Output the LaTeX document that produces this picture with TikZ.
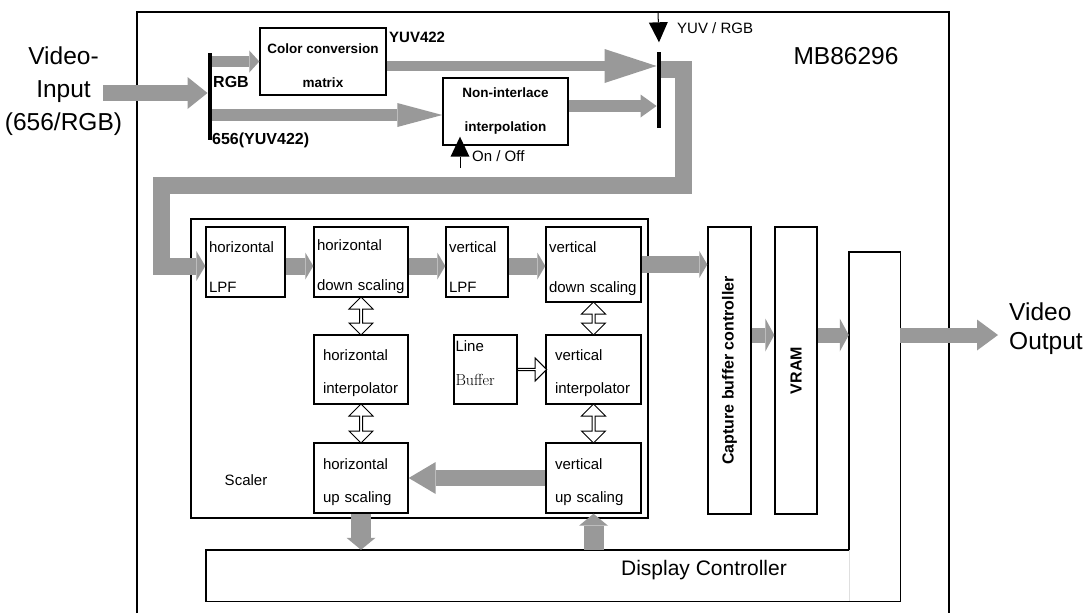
\documentclass[tikz,border=0pt]{standalone}
\usepackage{fontspec}
\setsansfont{Liberation Sans}
\usetikzlibrary{arrows.meta,shapes.arrows,calc}
\definecolor{fatgray}{HTML}{999999}
\begin{document}
\begin{tikzpicture}[x=1pt, y=-1pt,
    every node/.style={font=\sffamily},
    sbox/.style={draw, line width=1.4pt, align=left, inner ysep=0pt, inner xsep=9pt, text height=19pt, font=\sffamily\fontsize{15}{33}\selectfont},
    toprow/.style={inner xsep=3pt, text height=20pt, font=\sffamily\fontsize{15}{40}\selectfont},
    tbox/.style={draw, line width=1.4pt, align=center, font=\sffamily\bfseries\fontsize{13.5}{34}\selectfont},
    tall/.style={draw, line width=1.4pt, minimum height=287pt, font=\sffamily\bfseries\fontsize{16}{18}\selectfont},
    bar/.style={fill=black, inner sep=0pt, minimum width=4.5pt},
    fat/.style n args={3}{draw=fatgray, line width=#1, -{Triangle[width=#2, length=#3, line width=0pt]}},
    rowarr/.style={fat={17pt}{27pt}{8pt}},
    pin/.style={line width=1pt, -{Triangle[width=19pt, length=20pt, line width=0pt]}},
    dbl/.style={double arrow, draw, line width=1pt, fill=white, rotate=90, inner sep=0pt, minimum width=24pt, double arrow head extend=3.5pt},
    lbl/.style={anchor=west, inner sep=0pt, font=\sffamily\bfseries\fontsize{16}{18}\selectfont},
    small/.style={anchor=west, inner sep=0pt, font=\sffamily\fontsize{15}{18}\selectfont},
    big/.style={font=\sffamily\fontsize{24.5}{33}\selectfont}
]
\useasboundingbox (0,0) rectangle (1086,613);

% chip outline
\draw[line width=1.4pt] (137,613) -- (137,12) -- (949,12) -- (949,613);
\node[big] (chip) at (846,56) {MB86296};

\node[big, align=center] (vin) at (63.5,91) {Video-\\Input\\(656/RGB)};
\node[big, align=left, anchor=west, inner xsep=11pt, font=\sffamily\fontsize{24.5}{29}\selectfont] (vout) at (998,329) {Video\\Output};
\coordinate (vinarr) at (103,93);
\coordinate (yuvtop) at (658,12);
\coordinate (onoff) at (460,168);

% input stage
\node[bar, minimum height=87pt] (mux1) at (210,96.5) {};
\node[bar, minimum height=76pt] (mux2) at (659,89.5) {};
\node[tbox, minimum width=126pt, minimum height=67pt, text height=52pt] (ccm) at (323,61.5) {Color conversion\\matrix};
\node[tbox, minimum width=125pt, minimum height=67pt] (nil) at (505.5,111.5) {Non-interlace\\interpolation};

\node[lbl, font=\sffamily\bfseries\fontsize{15}{18}\selectfont] (yuv) at (389,37) {YUV422};
\node[lbl] (rgb) at (213,82) {RGB};
\node[lbl] (ysrc) at (212,140) {656(YUV422)};
\node[small] (yuvrgb) at (677,28) {YUV / RGB};
\node[small] (onofftxt) at (472,156) {On / Off};

\draw[fat={16pt}{32pt}{20pt}] (vinarr) -- (vinarr -| mux1.west);
\draw[fat={11pt}{22pt}{10pt}] (mux1.east |- ccm.west) -- (ccm.west);
\draw[fat={12pt}{24pt}{45pt}] ([yshift=-3.5pt]nil.west) coordinate (c3) (c3 -| mux1.east) -- (c3);
\draw[fat={10pt}{34pt}{52pt}] ([yshift=-4.5pt]ccm.east) coordinate (c1) -- (c1 -| mux2.west);
\draw[fat={12pt}{23pt}{16pt}] ([yshift=5.5pt]nil.east) coordinate (c2) -- (c2 -| mux2.west);
\draw[pin] (yuvtop) -- ([yshift=9pt]mux2.north);
\draw[pin, shorten >=-9pt] (onoff) -- (onoff |- nil.south);

% scaler
\node[draw, line width=1.4pt, minimum width=457pt, minimum height=299pt] (scl) at (419.5,368.5) {};
\node[font=\sffamily\fontsize{15}{18}\selectfont] (scltxt) at (246,480) {Scaler};

\node[sbox, toprow, text width=73pt, minimum height=70pt] (hlpf) at (245.5,262) {horizontal\\LPF};
\node[sbox, toprow, text width=88pt, minimum height=70pt] (hds) at (361,262) {horizontal\\down scaling};
\node[sbox, toprow, text width=56pt, minimum height=70pt] (vlpf) at (477,262) {vertical\\LPF};
\node[sbox, toprow, text width=89pt, minimum height=75pt] (vds) at (593.5,264.5) {vertical\\down scaling};

\node[sbox, text width=76pt, minimum height=69pt] (hint) at (361,369.5) {horizontal\\interpolator};
\node[sbox, text width=77pt, minimum height=69pt] (vint) at (593.5,369.5) {vertical\\interpolator};
\node[draw, line width=1.4pt, minimum width=63pt, minimum height=69pt,
      label={[anchor=north west, align=left, inner xsep=2pt, inner ysep=6pt, font=\sffamily\fontsize{15}{34}\selectfont]north west:{Line\\\rmfamily\fontsize{16}{34}\selectfont Buffer}}] (lbuf) at (485.5,369.5) {};

\node[sbox, text width=76pt, minimum height=70pt] (hus) at (361,478) {horizontal\\up scaling};
\node[sbox, text width=77pt, minimum height=70pt] (vus) at (593.5,478) {vertical\\up scaling};

\draw[fat={17pt}{30pt}{9pt}] ([yshift=20pt]mux2.east) -| (683.5,185) -- (161.5,185) |- ([yshift=-4pt]hlpf.west);
\draw[rowarr] ([yshift=-4pt]hlpf.east) coordinate (r1) -- (r1 -| hds.west);
\draw[rowarr] ([yshift=-4pt]hds.east) coordinate (r2) -- (r2 -| vlpf.west);
\draw[rowarr] ([yshift=-4pt]vlpf.east) coordinate (r3) -- (r3 -| vds.west);

\node[dbl, minimum height=38pt] (d1) at ($(hds.south)!0.5!(hint.north)$) {};
\node[dbl, minimum height=33pt] (d2) at ($(vds.south)!0.5!(vint.north)$) {};
\node[dbl, minimum height=39pt] (d3) at ($(hint.south)!0.5!(hus.north)$) {};
\node[dbl, minimum height=39pt] (d4) at ($(vint.south)!0.5!(vus.north)$) {};
\node[single arrow, draw, fill=white, line width=1pt, inner sep=0pt, minimum width=23pt, single arrow head extend=4.5pt, minimum height=29pt] (s1) at ($(lbuf.east)!0.5!(vint.west)$) {};

\draw[fat={16pt}{32pt}{27pt}] (vus.west) -- (hus.east);

% memory and output
\node[tall, minimum width=43pt] (cbc) at (729.5,370.5) {\rotatebox{90}{Capture buffer controller}};
\node[tall, minimum width=42pt] (vram) at (796,370.5) {\rotatebox{90}{VRAM}};
\node[minimum width=51pt, minimum height=349pt, inner sep=0pt] (obox) at (874.5,426.5) {};
\node[minimum width=643pt, minimum height=51pt, inner sep=0pt] (disp) at (527.5,575.5) {};
\node[font=\sffamily\fontsize{21}{24}\selectfont] (disptxt) at (704,570) {Display Controller};

\draw[line width=1.4pt] (disp.north east) -- (disp.north west) -- (disp.south west) -- (disp.south east);
\draw[line width=1.4pt] (obox.west |- disp.north) -- (obox.north west) -- (obox.north east) -- (obox.south east) -- (obox.south west);
\draw[gray!25] (disp.north east) -- (disp.south east);

\draw[rowarr] (vds.east) -- (vds.east -| cbc.west);
\draw[fat={15pt}{33pt}{9pt}] ([yshift=35.5pt]cbc.east) coordinate (r5) -- (r5 -| vram.west);
\draw[fat={15pt}{33pt}{9pt}] ([yshift=35.5pt]vram.east) coordinate (r6) -- (r6 -| obox.west);
\draw[fat={15pt}{31pt}{21pt}] (r6 -| obox.east) -- (vout.west |- r6);

\draw[fat={20pt}{29pt}{12pt}] (hus.south) -- (hus.south |- disp.north);
\draw[fat={20pt}{29pt}{12pt}] (vus.south |- disp.north) -- (vus.south);

\end{tikzpicture}
\end{document}
